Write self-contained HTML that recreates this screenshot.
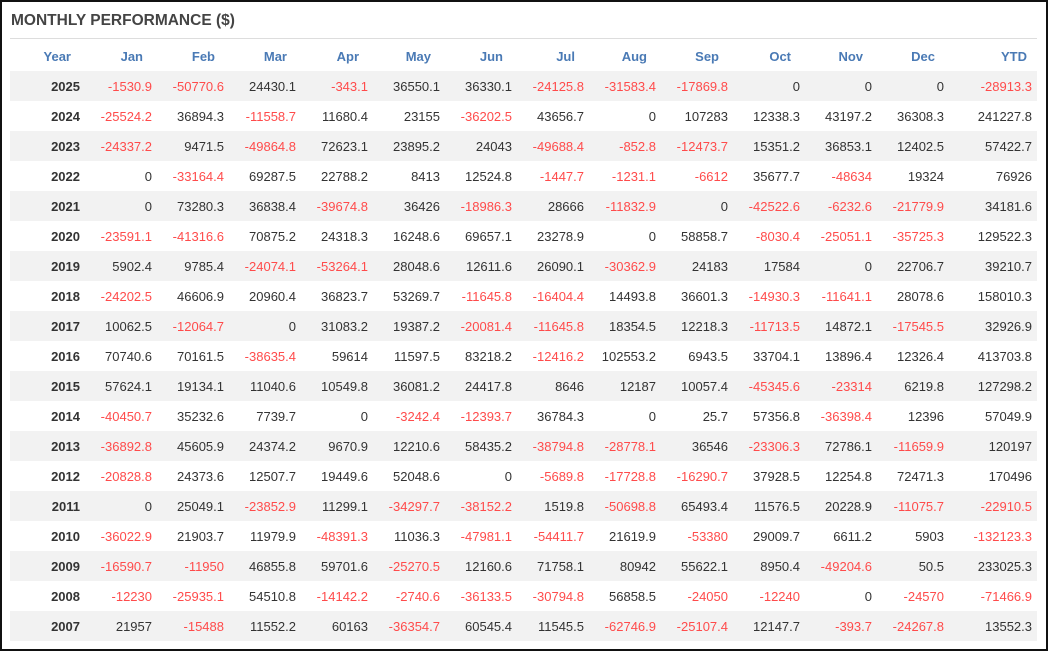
<!DOCTYPE html>
<html><head><meta charset="utf-8"><style>
body{margin:0;width:1048px;height:651px;background:#fff;font-family:"Liberation Sans",Arial,sans-serif;overflow:hidden}
.frame{position:absolute;left:0;top:0;width:1044px;height:647px;border:2px solid #111;}
.title{position:absolute;left:11px;top:12px;font-size:15.5px;font-weight:bold;color:#444;}
.line{position:absolute;left:10px;top:38px;width:1027px;height:1px;background:#ddd}
table{position:absolute;left:10px;top:41px;border-collapse:collapse;table-layout:fixed;font-size:13px;color:#333}
td,th{height:30px;padding:0 8px 0 0;text-align:right;white-space:nowrap}
th{color:#4a7ab5;font-weight:bold;font-size:13px;padding-right:17px}
td.y{font-weight:bold}
tr.g td{background:#f2f2f2}
.n{color:#ff4b4b}
</style></head><body>
<div class="frame"></div>
<div class="title">MONTHLY PERFORMANCE ($)</div>
<div class="line"></div>
<table>
<colgroup><col style="width:78px"><col span="12" style="width:72px"><col style="width:85px"></colgroup>
<tr><th>Year</th><th>Jan</th><th>Feb</th><th>Mar</th><th>Apr</th><th>May</th><th>Jun</th><th>Jul</th><th>Aug</th><th>Sep</th><th>Oct</th><th>Nov</th><th>Dec</th><th style="padding-right:10px">YTD</th></tr>
</table>
<script>
var d=`2025 -1530.9 -50770.6 24430.1 -343.1 36550.1 36330.1 -24125.8 -31583.4 -17869.8 0 0 0 -28913.3
2024 -25524.2 36894.3 -11558.7 11680.4 23155 -36202.5 43656.7 0 107283 12338.3 43197.2 36308.3 241227.8
2023 -24337.2 9471.5 -49864.8 72623.1 23895.2 24043 -49688.4 -852.8 -12473.7 15351.2 36853.1 12402.5 57422.7
2022 0 -33164.4 69287.5 22788.2 8413 12524.8 -1447.7 -1231.1 -6612 35677.7 -48634 19324 76926
2021 0 73280.3 36838.4 -39674.8 36426 -18986.3 28666 -11832.9 0 -42522.6 -6232.6 -21779.9 34181.6
2020 -23591.1 -41316.6 70875.2 24318.3 16248.6 69657.1 23278.9 0 58858.7 -8030.4 -25051.1 -35725.3 129522.3
2019 5902.4 9785.4 -24074.1 -53264.1 28048.6 12611.6 26090.1 -30362.9 24183 17584 0 22706.7 39210.7
2018 -24202.5 46606.9 20960.4 36823.7 53269.7 -11645.8 -16404.4 14493.8 36601.3 -14930.3 -11641.1 28078.6 158010.3
2017 10062.5 -12064.7 0 31083.2 19387.2 -20081.4 -11645.8 18354.5 12218.3 -11713.5 14872.1 -17545.5 32926.9
2016 70740.6 70161.5 -38635.4 59614 11597.5 83218.2 -12416.2 102553.2 6943.5 33704.1 13896.4 12326.4 413703.8
2015 57624.1 19134.1 11040.6 10549.8 36081.2 24417.8 8646 12187 10057.4 -45345.6 -23314 6219.8 127298.2
2014 -40450.7 35232.6 7739.7 0 -3242.4 -12393.7 36784.3 0 25.7 57356.8 -36398.4 12396 57049.9
2013 -36892.8 45605.9 24374.2 9670.9 12210.6 58435.2 -38794.8 -28778.1 36546 -23306.3 72786.1 -11659.9 120197
2012 -20828.8 24373.6 12507.7 19449.6 52048.6 0 -5689.8 -17728.8 -16290.7 37928.5 12254.8 72471.3 170496
2011 0 25049.1 -23852.9 11299.1 -34297.7 -38152.2 1519.8 -50698.8 65493.4 11576.5 20228.9 -11075.7 -22910.5
2010 -36022.9 21903.7 11979.9 -48391.3 11036.3 -47981.1 -54411.7 21619.9 -53380 29009.7 6611.2 5903 -132123.3
2009 -16590.7 -11950 46855.8 59701.6 -25270.5 12160.6 71758.1 80942 55622.1 8950.4 -49204.6 50.5 233025.3
2008 -12230 -25935.1 54510.8 -14142.2 -2740.6 -36133.5 -30794.8 56858.5 -24050 -12240 0 -24570 -71466.9
2007 21957 -15488 11552.2 60163 -36354.7 60545.4 11545.5 -62746.9 -25107.4 12147.7 -393.7 -24267.8 13552.3`;
var h='';d.split('\n').forEach(function(l,k){var p=l.trim().split(' ');h+='<tr'+(k%2==0?' class="g"':'')+'><td class="y">'+p[0]+'</td>';for(var i=1;i<p.length;i++){h+='<td'+(p[i][0]=='-'?' class="n"':'')+(i==13?' style="padding-right:5px"':'')+'>'+p[i]+'</td>';}h+='</tr>';});
var t=document.querySelector('table');t.insertAdjacentHTML('beforeend',h);
</script>
</body></html>
